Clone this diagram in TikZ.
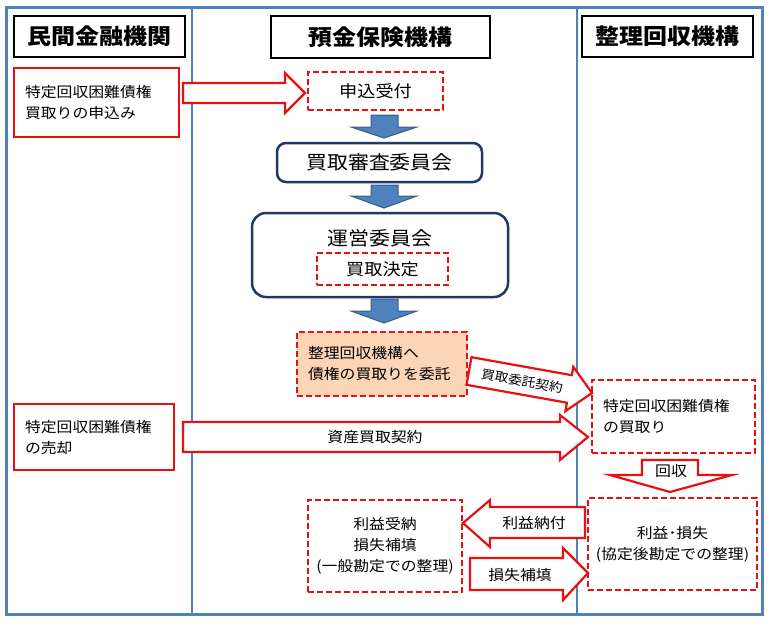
\documentclass[tikz,border=0pt]{standalone}
\usepackage{fontspec}
\setmainfont{Noto Sans CJK JP}[FakeStretch=1.1]
\definecolor{frameblue}{RGB}{79,129,189}
\definecolor{arrowblue}{RGB}{79,129,189}
\definecolor{arrowedge}{RGB}{56,93,138}
\definecolor{navy}{RGB}{31,56,100}
\definecolor{myred}{RGB}{232,16,16}
\definecolor{peach}{RGB}{251,213,181}
\tikzset{
  hdr/.style={draw=black, line width=2pt, inner sep=0pt, font=\fontsize{21.8}{26}\selectfont\bfseries},
  redbox/.style={draw=myred, line width=2.5pt, inner sep=0pt},
  dashbox/.style={draw=myred, line width=2.5pt, dash pattern=on 6pt off 3pt, inner sep=0pt},
  navybox/.style={draw=navy, line width=2.5pt, rounded corners=#1, inner sep=0pt},
  navybox/.default=9pt,
  body/.style={font=\fontsize{14.4}{21}\selectfont},
  lefttext/.style={align=left, inner xsep=11pt},
  ctext/.style={align=center},
  redarrow/.style={draw=myred, line width=2.2pt, fill=white, line join=miter},
  bluearrow/.style={fill=arrowblue, draw=arrowedge, line width=1pt},
  lbl/.style={inner sep=0pt, font=\fontsize{14.4}{18}\selectfont}
}
\begin{document}
\begin{tikzpicture}[x=1pt,y=-1pt]
\useasboundingbox (0,0) rectangle (770,625);
% frame
\draw[frameblue, line width=3pt] (6,7) rectangle (762,614);
\coordinate (d1t) at (192,7); \coordinate (d1b) at (192,614);
\coordinate (d2t) at (577,7); \coordinate (d2b) at (577,614);
\draw[frameblue, line width=2.5pt] (d1t) -- (d1b);
\draw[frameblue, line width=2.5pt] (d2t) -- (d2b);
% headers
\node[hdr, minimum width=171pt, minimum height=41pt] (h1) at (99.5,36.5) {民間金融機関};
\node[hdr, minimum width=219pt, minimum height=42pt] (h2) at (380.5,37) {預金保険機構};
\node[hdr, minimum width=171pt, minimum height=41pt] (h3) at (667.5,36.5) {整理回収機構};
% left column boxes
\node[redbox, body, lefttext, text width=143pt, minimum height=69pt] (a) at (96.5,102.5) {特定回収困難債権\\買取りの申込み};
\node[redbox, body, lefttext, text width=138pt, minimum height=66pt] (b) at (94,437) {特定回収困難債権\\の売却};
% middle column
\node[dashbox, minimum width=135pt, minimum height=38pt, font=\fontsize{16.5}{20}\selectfont] (uketsuke) at (375.5,91) {申込受付};
\node[navybox, minimum width=205pt, minimum height=39pt, font=\fontsize{19}{22}\selectfont] (shinsa) at (379.5,162.5) {買取審査委員会};
\node[navybox=14pt, minimum width=256pt, minimum height=84pt] (unei) at (380,255) {};
\node[inner sep=0pt, font=\fontsize{19}{22}\selectfont] (ueititle) at (380,238) {運営委員会};
\node[dashbox, minimum width=131pt, minimum height=32pt, font=\fontsize{16.5}{20}\selectfont] (kettei) at (382.5,269) {買取決定};
\node[dashbox, fill=peach, body, lefttext, text width=148pt, minimum height=64pt] (itaku) at (382,364) {整理回収機構へ\\債権の買取りを委託};
\node[dashbox, body, ctext, minimum width=154pt, minimum height=92pt] (juno) at (385,546) {利益受納\\損失補填\\(一般勘定での整理)};
% right column
\node[dashbox, body, lefttext, text width=141pt, minimum height=73pt] (kaitori) at (673.5,416.5) {特定回収困難債権\\の買取り};
\node[dashbox, body, ctext, minimum width=169pt, minimum height=92pt] (soneki) at (672.5,544) {利益･損失\\(協定後勘定での整理)};
% blue arrows
\draw[bluearrow] (371,115) -- (398,115) -- (398,127) -- (417,127) -- (384,138) -- (351,127) -- (371,127) -- cycle;
\draw[bluearrow] (371,185) -- (398,185) -- (398,196) -- (417,196) -- (384,208) -- (351,196) -- (371,196) -- cycle;
\draw[bluearrow] (371,299) -- (398,299) -- (398,311) -- (417,311) -- (384,323) -- (351,311) -- (371,311) -- cycle;
% red block arrows
\draw[redarrow] (183,83) -- (285,83) -- (285,73) -- (305,93) -- (285,113) -- (285,103) -- (183,103) -- cycle;
\draw[redarrow] (183,422) -- (560,422) -- (560,415) -- (588,437) -- (560,460) -- (560,452) -- (183,452) -- cycle;
\node[lbl] (l1) at (375,437) {資産買取契約};
\draw[redarrow] (471.5,357.2) -- (571.9,375.2) -- (573.3,366.8) -- (592,393) -- (565.4,411.1) -- (566.9,402.7) -- (466.5,384.8) -- cycle;
\node[lbl, rotate=-10, font=\fontsize{12.5}{15}\selectfont] (l2) at (522,381) {買取委託契約};
\draw[redarrow] (642,460) -- (698,460) -- (698,475) -- (732,475) -- (670,492) -- (610,475) -- (642,475) -- cycle;
\node[lbl, font=\fontsize{14.5}{18}\selectfont] (l3) at (671,471) {回収};
\draw[redarrow] (585,507) -- (490,507) -- (490,500) -- (463,523) -- (490,547) -- (490,538) -- (585,538) -- cycle;
\node[lbl] (l4) at (534,523) {利益納付};
\draw[redarrow] (470,558) -- (563,558) -- (563,548) -- (588,573) -- (563,600) -- (563,590) -- (470,590) -- cycle;
\node[lbl] (l5) at (520,575) {損失補填};
\end{tikzpicture}
\end{document}
